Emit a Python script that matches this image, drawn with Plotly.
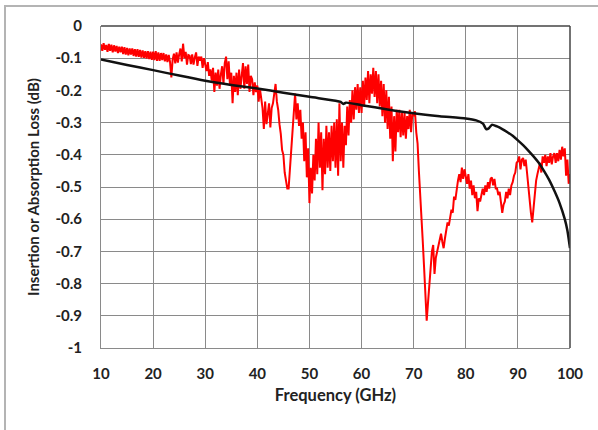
import numpy as np
import plotly.graph_objects as go

# Red (measured) series: 0.25 GHz grid from 10 to 100 GHz
red_freq = np.round(np.arange(10, 100.001, 0.25), 2)
red_loss = [
    -0.057, -0.077, -0.053, -0.074,
    -0.059, -0.080, -0.056, -0.077,
    -0.058, -0.082, -0.060, -0.079,
    -0.062, -0.084, -0.064, -0.082,
    -0.064, -0.087, -0.066, -0.089,
    -0.068, -0.091, -0.070, -0.089,
    -0.070, -0.093, -0.072, -0.095,
    -0.072, -0.096, -0.074, -0.098,
    -0.076, -0.099, -0.078, -0.101,
    -0.078, -0.103, -0.080, -0.105,
    -0.080, -0.106, -0.078, -0.108,
    -0.082, -0.108, -0.084, -0.106,
    -0.084, -0.110, -0.088, -0.112,
    -0.090, -0.112, -0.160, -0.104,
    -0.086, -0.116, -0.082, -0.114,
    -0.088, -0.070, -0.110, -0.055,
    -0.100, -0.080, -0.120, -0.090,
    -0.092, -0.118, -0.088, -0.120,
    -0.098, -0.082, -0.124, -0.095,
    -0.108, -0.095, -0.130, -0.100,
    -0.120, -0.140, -0.112, -0.155,
    -0.135, -0.170, -0.130, -0.205,
    -0.145, -0.185, -0.135, -0.195,
    -0.150, -0.125, -0.180, -0.115,
    -0.095, -0.165, -0.110, -0.185,
    -0.145, -0.240, -0.155, -0.205,
    -0.145, -0.215, -0.135, -0.195,
    -0.155, -0.115, -0.195, -0.125,
    -0.180, -0.120, -0.205, -0.155,
    -0.165, -0.215, -0.175, -0.205,
    -0.185, -0.235, -0.195, -0.225,
    -0.255, -0.320, -0.235, -0.305,
    -0.275, -0.240, -0.315, -0.255,
    -0.240, -0.200, -0.180, -0.235,
    -0.260, -0.305, -0.335, -0.385,
    -0.400, -0.455, -0.480, -0.505,
    -0.505, -0.450, -0.380, -0.330,
    -0.280, -0.210, -0.290, -0.240,
    -0.310, -0.260, -0.350, -0.300,
    -0.420, -0.330, -0.470, -0.380,
    -0.550, -0.440, -0.520, -0.400,
    -0.480, -0.350, -0.460, -0.300,
    -0.440, -0.330, -0.510, -0.350,
    -0.460, -0.310, -0.440, -0.330,
    -0.450, -0.310, -0.420, -0.300,
    -0.440, -0.290, -0.465, -0.240,
    -0.420, -0.300, -0.440, -0.310,
    -0.370, -0.250, -0.340, -0.230,
    -0.300, -0.200, -0.290, -0.190,
    -0.260, -0.180, -0.270, -0.190,
    -0.270, -0.170, -0.250, -0.160,
    -0.230, -0.140, -0.240, -0.150,
    -0.210, -0.130, -0.220, -0.140,
    -0.240, -0.150, -0.250, -0.170,
    -0.280, -0.180, -0.300, -0.200,
    -0.320, -0.220, -0.350, -0.250,
    -0.420, -0.280, -0.390, -0.260,
    -0.330, -0.260, -0.345, -0.270,
    -0.340, -0.270, -0.350, -0.280,
    -0.320, -0.260, -0.330, -0.270,
    -0.280, -0.265, -0.330, -0.365,
    -0.450, -0.540, -0.610, -0.670,
    -0.750, -0.830, -0.915, -0.860,
    -0.810, -0.760, -0.700, -0.680,
    -0.770, -0.720, -0.700, -0.690,
    -0.660, -0.645, -0.670, -0.690,
    -0.660, -0.640, -0.610, -0.620,
    -0.600, -0.570, -0.580, -0.530,
    -0.540, -0.500, -0.480, -0.460,
    -0.485, -0.440, -0.475, -0.445,
    -0.475, -0.490, -0.460, -0.505,
    -0.480, -0.525, -0.495, -0.535,
    -0.515, -0.575, -0.535, -0.545,
    -0.525, -0.505, -0.525, -0.495,
    -0.515, -0.485, -0.505, -0.475,
    -0.470, -0.495, -0.475, -0.505,
    -0.505, -0.525, -0.515, -0.545,
    -0.580, -0.555, -0.545, -0.515,
    -0.535, -0.505, -0.525, -0.495,
    -0.485, -0.465, -0.455, -0.425,
    -0.420, -0.405, -0.445, -0.415,
    -0.410, -0.435, -0.415, -0.455,
    -0.500, -0.550, -0.580, -0.610,
    -0.560, -0.510, -0.480, -0.460,
    -0.440, -0.425, -0.455, -0.405,
    -0.425, -0.400, -0.435, -0.405,
    -0.425, -0.395, -0.430, -0.405,
    -0.395, -0.425, -0.395, -0.420,
    -0.385, -0.415, -0.375, -0.405,
    -0.380, -0.465, -0.415, -0.490,
    -0.460,
]

# Black (simulated) series
black_freq = [10, 15, 20, 25, 30, 35, 40, 45, 50, 55, 56, 56.5, 57, 60, 65, 70,
              75, 80, 82, 83.3, 83.9, 84.4, 85, 86, 87, 88, 89, 90, 91, 92, 93,
              94, 95, 96, 97, 98, 99, 99.5, 100]
black_loss = [-0.104, -0.121, -0.137, -0.154, -0.170, -0.183, -0.194, -0.207,
              -0.220, -0.232, -0.236, -0.242, -0.238, -0.246, -0.259, -0.271,
              -0.280, -0.287, -0.293, -0.303, -0.320, -0.318, -0.307, -0.312,
              -0.320, -0.330, -0.341, -0.355, -0.370, -0.387, -0.405, -0.425,
              -0.450, -0.478, -0.512, -0.550, -0.600, -0.635, -0.690]

x_ticks = [10, 20, 30, 40, 50, 60, 70, 80, 90, 100]
y_ticks = [0, -0.1, -0.2, -0.3, -0.4, -0.5, -0.6, -0.7, -0.8, -0.9, -1]
y_tick_text = ["0", "-0.1", "-0.2", "-0.3", "-0.4", "-0.5", "-0.6", "-0.7", "-0.8", "-0.9", "-1"]

FONT = "Lato"
TXT = "#222222"

fig = go.Figure()
fig.add_trace(go.Scatter(x=red_freq, y=red_loss, mode="lines",
                         line=dict(color="#ff0000", width=2), showlegend=False))
fig.add_trace(go.Scatter(x=black_freq, y=black_loss, mode="lines",
                         line=dict(color="#111111", width=2.5, shape="spline", smoothing=0.6),
                         showlegend=False))

fig.update_layout(
    width=598, height=430,
    margin=dict(l=101, r=28, t=26, b=82, autoexpand=False),
    paper_bgcolor="white", plot_bgcolor="white",
    font=dict(family=FONT, size=15, color=TXT),
    xaxis=dict(range=[10, 100], tickvals=x_ticks, showgrid=True, automargin=False,
               gridcolor="#8a8a8a", gridwidth=1, zeroline=False,
               showline=True, linecolor="#8a8a8a", linewidth=1,
               ticks="", ticklabelstandoff=12,
               tickfont=dict(family=FONT, size=15, color=TXT, weight="bold"),
               title=dict(text="Frequency (GHz)", standoff=8,
                          font=dict(family=FONT, size=16.5, color=TXT, weight="bold"))),
    yaxis=dict(range=[-1, 0], tickvals=y_ticks, ticktext=y_tick_text, showgrid=True,
               automargin=False,
               gridcolor="#8a8a8a", gridwidth=1, zeroline=False,
               showline=True, linecolor="#8a8a8a", linewidth=1,
               ticks="", ticklabelstandoff=15,
               tickfont=dict(family=FONT, size=15, color=TXT, weight="bold"),
               title=dict(text="Insertion or Absorption Loss (dB)", standoff=12,
                          font=dict(family=FONT, size=15, color=TXT, weight="bold"))),
    shapes=[
        dict(type="line", xref="paper", yref="paper", x0=0, x1=1, y0=1, y1=1,
             line=dict(color="#444444", width=1.5)),
        dict(type="line", xref="paper", yref="paper", x0=1, x1=1, y0=0, y1=1,
             line=dict(color="#444444", width=1.5)),
        dict(type="rect", xref="paper", yref="paper", x0=-0.2047, x1=1.2, y0=-0.4, y1=1.0621,
             line=dict(color="#b4b4b4", width=2), layer="below"),
    ],
)

fig.write_html("out.html", config={"displayModeBar": False},
               post_script="document.body.style.margin='0';")
